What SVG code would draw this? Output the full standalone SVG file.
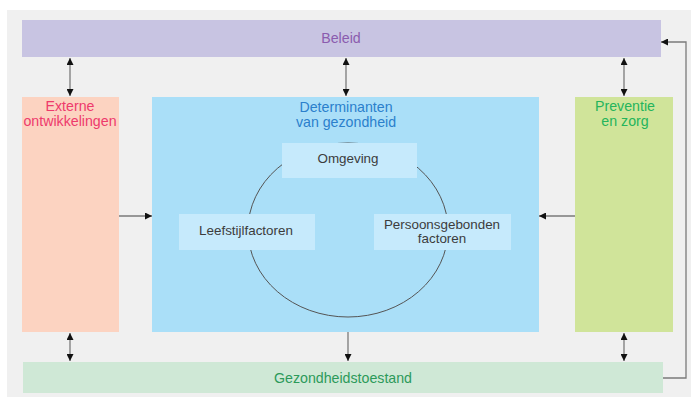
<svg xmlns="http://www.w3.org/2000/svg" width="691" height="397" viewBox="0 0 691 397">
<defs>
<style>
text{font-family:"Liberation Sans",Arial,sans-serif;text-anchor:middle}
.big{font-size:14.2px}
.small{font-size:13.4px;fill:#3c3c3c}
.ln{stroke:#7a7a7a;stroke-width:1.3;fill:none}
.inner{fill:#c6eafc}
</style>
<marker id="ah" viewBox="0 0 10 10" refX="10" refY="5" markerWidth="7" markerHeight="7" markerUnits="userSpaceOnUse" orient="auto-start-reverse">
<path d="M0,0 L10,5 L0,10 z" fill="#111"/>
</marker>
</defs>
<rect x="0" y="0" width="691" height="397" fill="#ffffff"/>
<rect x="7" y="10" width="684" height="387" fill="#f0f0f0"/>

<g id="beleid">
<rect x="22" y="20" width="639" height="37" fill="#c8c4e2"/>
<text class="big" x="341" y="43" fill="#8b5cae">Beleid</text>
</g>
<g id="externe">
<rect x="22" y="97" width="97" height="235" fill="#fcd3c1"/>
<text class="big" x="70" y="111" fill="#ee3a6c">Externe</text>
<text class="big" x="70" y="126" fill="#ee3a6c">ontwikkelingen</text>
</g>
<g id="determinanten">
<rect x="152" y="97" width="387" height="235" fill="#aadff8"/>
<text class="big" x="346" y="112" fill="#2b80cc">Determinanten</text>
<text class="big" x="346" y="127" fill="#2b80cc">van gezondheid</text>
<ellipse cx="348" cy="230" rx="100" ry="87" fill="none" stroke="#555" stroke-width="1"/>
</g>
<g id="omgeving">
<rect class="inner" x="282" y="143" width="135" height="35"/>
<text class="small" x="348" y="163">Omgeving</text>
</g>
<g id="leefstijl">
<rect class="inner" x="179" y="214" width="136" height="36"/>
<text class="small" x="246" y="235">Leefstijlfactoren</text>
</g>
<g id="persoons">
<rect class="inner" x="374" y="214" width="137" height="36"/>
<text class="small" x="442" y="229">Persoonsgebonden</text>
<text class="small" x="442" y="243">factoren</text>
</g>
<g id="preventie">
<rect x="575" y="97" width="98" height="235" fill="#d0e49a"/>
<text class="big" x="625" y="111" fill="#24b45c">Preventie</text>
<text class="big" x="625" y="126" fill="#24b45c">en zorg</text>
</g>
<g id="gezondheid">
<rect x="23" y="362" width="640" height="31" fill="#cfe8d6"/>
<text class="big" x="343" y="383" fill="#2c9a5a">Gezondheidstoestand</text>
</g>

<g id="connectors">
<line class="ln" x1="70" y1="58" x2="70" y2="96" marker-start="url(#ah)" marker-end="url(#ah)"/>
<line class="ln" x1="346" y1="58" x2="346" y2="96" marker-start="url(#ah)" marker-end="url(#ah)"/>
<line class="ln" x1="624" y1="58" x2="624" y2="96" marker-start="url(#ah)" marker-end="url(#ah)"/>
<line class="ln" x1="119" y1="216" x2="152" y2="216" marker-end="url(#ah)"/>
<line class="ln" x1="575" y1="216" x2="539" y2="216" marker-end="url(#ah)"/>
<line class="ln" x1="70" y1="333" x2="70" y2="361" marker-start="url(#ah)" marker-end="url(#ah)"/>
<line class="ln" x1="348" y1="332" x2="348" y2="361" marker-end="url(#ah)"/>
<line class="ln" x1="624" y1="333" x2="624" y2="361" marker-start="url(#ah)" marker-end="url(#ah)"/>
<polyline class="ln" points="663,378 686,378 686,42 661,42" marker-end="url(#ah)"/>
</g>
</svg>
